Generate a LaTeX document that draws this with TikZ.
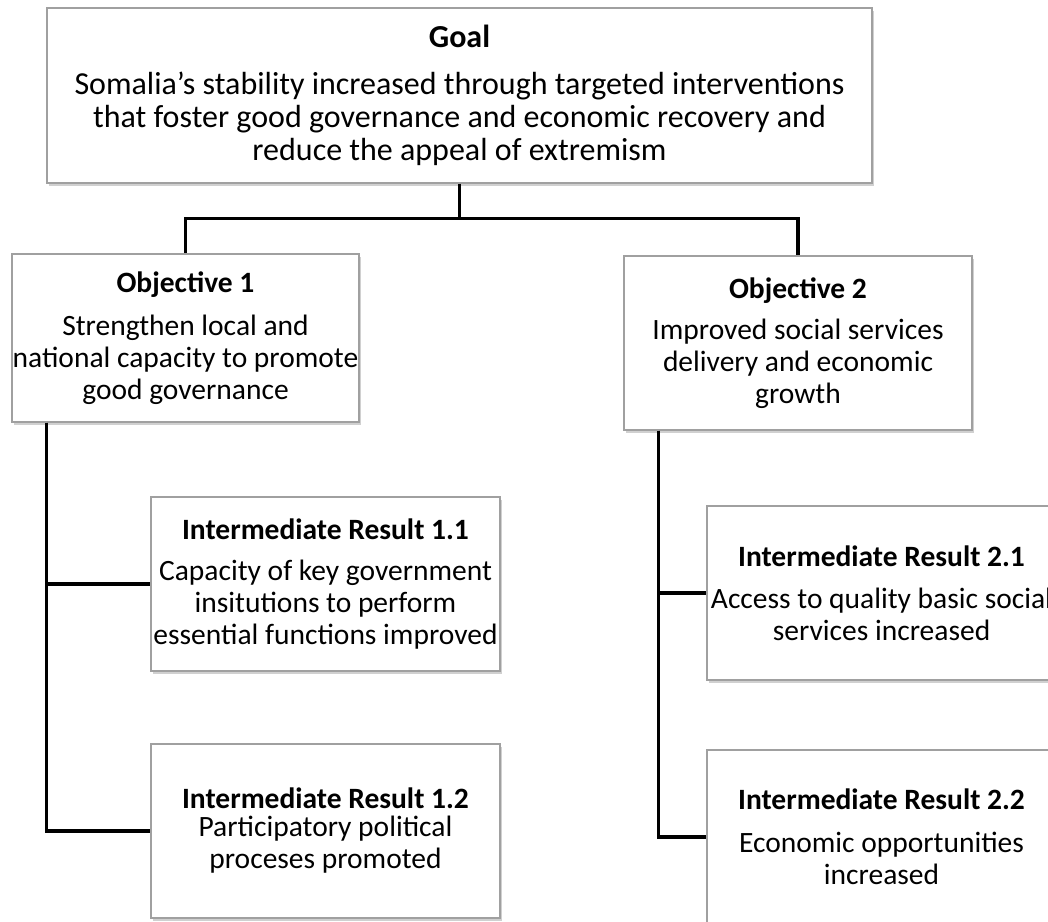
\documentclass[tikz,border=0pt]{standalone}
\usepackage{fontspec}
\setmainfont{Carlito}
\usepackage{tikz}
\usetikzlibrary{shadows, positioning}
\definecolor{boxedge}{RGB}{160,160,160}
\definecolor{shadowcolor}{RGB}{120,120,120}

\begin{document}
\begin{tikzpicture}[
    x=1pt, y=-1pt,
    box/.style={draw=boxedge, line width=1.2pt, fill=white, align=center, inner sep=0pt,
        minimum width=349pt, minimum height=174pt, font=\fontsize{29.5}{32}\selectfont,
        drop shadow={shadow xshift=2pt, shadow yshift=-2.5pt, opacity=0.35, fill=shadowcolor}},
    conn/.style={line width=3.3pt}
]
    \useasboundingbox (0,0) rectangle (1048,921);

    % Goal
    \node[box, minimum width=825pt, minimum height=175pt, font=\fontsize{32}{33}\selectfont] (goal) at (459.5,95.5)
        {\textbf{Goal}\\[14pt]
         Somalia’s stability increased through targeted interventions\\
         that foster good governance and economic recovery and\\
         reduce the appeal of extremism};

    % Objectives
    \node[box, minimum width=347pt, minimum height=168pt] (obj1) at (185.5,338)
        {\textbf{Objective 1}\\[11pt]
         Strengthen local and\\ national capacity to promote\\ good governance};
    \node[box, minimum width=348pt] (obj2) at (798,343)
        {\textbf{Objective 2}\\[9pt]
         Improved social services\\ delivery and economic\\ growth};

    % Intermediate results
    \node[box] (ir11) at (325.5,584)
        {\textbf{Intermediate Result 1.1}\\[9pt]
         Capacity of key government\\ insitutions to perform\\ essential functions improved};
    \node[box] (ir12) at (325.5,831)
        {\textbf{Intermediate Result 1.2}\\[-4pt]
         Participatory political\\ proceses promoted};
    \node[box] (ir21) at (881.5,593)
        {\textbf{Intermediate Result 2.1}\\[10pt]
         Access to quality basic social\\ services increased};
    \node[box] (ir22) at (881.5,837)
        {\textbf{Intermediate Result 2.2}\\[11pt]
         Economic opportunities\\ increased};

    % Connectors
    \coordinate (split) at ([yshift=-35pt]goal.south);
    \coordinate (spine1) at ([xshift=35pt]obj1.south west);
    \coordinate (spine2) at ([xshift=35pt]obj2.south west);

    \draw[conn] (goal.south) -- (split) -| (obj1.north);
    \draw[conn] (split) -| (obj2.north);
    \draw[conn] (spine1) |- (ir11.west);
    \draw[conn] (spine1) |- (ir12.west);
    \draw[conn] (spine2) |- (ir21.west);
    \draw[conn] (spine2) |- (ir22.west);
\end{tikzpicture}
\end{document}
